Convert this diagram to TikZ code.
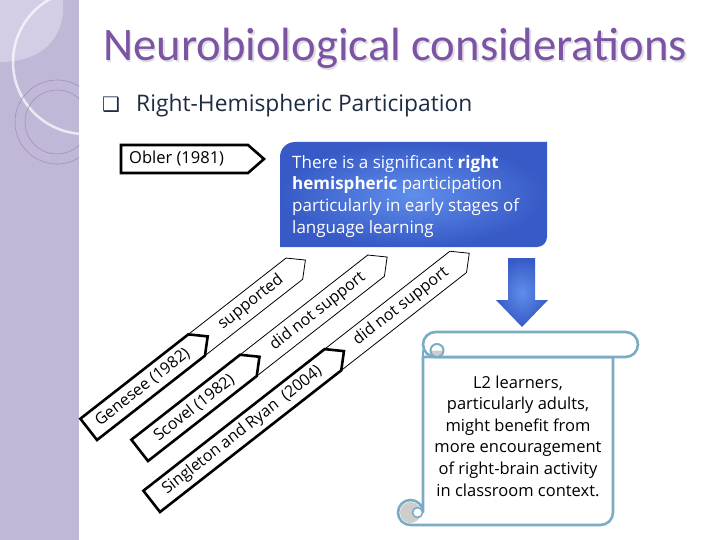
\documentclass[tikz,border=0pt]{standalone}
\usepackage{fontspec}
\setmainfont{Open Sans}
\newfontfamily\titlefont{Carlito}
\newfontfamily\dingfont{DejaVu Sans}
\usetikzlibrary{calc}
\definecolor{sidebar}{RGB}{193,183,215}
\definecolor{sidelight}{RGB}{212,205,229}
\definecolor{ringcol}{RGB}{158,146,190}
\definecolor{titlecol}{RGB}{125,84,164}
\definecolor{titleshadow}{RGB}{222,222,228}
\definecolor{subcol}{RGB}{30,44,66}
\definecolor{bluein}{RGB}{95,142,236}
\definecolor{blueout}{RGB}{55,90,198}
\definecolor{scrollcol}{RGB}{122,172,196}
\definecolor{curlcol}{RGB}{205,205,205}
\tikzset{
  thickband/.style={draw=black, fill=white, line width=2.6pt, line join=miter},
  thinband/.style={draw=black, fill=white, line width=0.8pt},
  bandtext/.style={font=\fontsize{16}{16}\selectfont, inner sep=0pt, transform shape},
  scrollline/.style={draw=scrollcol, line width=2.6pt, fill=white},
  bodytext/.style={font=\fontsize{16.5}{21.6}\selectfont, inner sep=0pt},
}
% #1,#2 origin; #3 thick end; #4 thin end; #5 name; #6 author; #7 result
\newcommand{\bandrow}[7]{%
  \begin{scope}[shift={(#1,#2)}, rotate=38, y=1pt]
    \draw[thinband] (#3-12,0) -- (#4,0) -- (#4+14,13.5) coordinate (#5-tip) -- (#4,27) -- (#3-12,27) -- cycle;
    \draw[thickband] (0,0) -- (#3,0) -- (#3+14,13.5) coordinate (#5-mid) -- (#3,27) -- (0,27) -- cycle;
    \node[bandtext] (#5-author) at ({#3/2},13.5) {#6};
    \node[bandtext] (#5-result) at ({(#3+#4)/2+7},13.5) {#7};
  \end{scope}}

\begin{document}
\begin{tikzpicture}[x=1pt,y=-1pt]
\useasboundingbox (0,0) rectangle (720,540);
\fill[white] (0,0) rectangle (720,540);

% sidebar
\begin{scope}
  \clip (0,0) rectangle (79,540);
  \fill[sidebar] (0,0) rectangle (79,540);
  \fill[sidelight] (0,0) -- (63,0) .. controls (66,40) and (40,62) .. (0,62) -- cycle;
  \draw[white, opacity=0.7, line width=2.5pt] (85,62) circle[radius=72pt];
  \draw[ringcol, line width=0.6pt] (57,122) circle[radius=42pt];
  \draw[ringcol, line width=0.6pt] (57,122) circle[radius=32pt];
\end{scope}

% title
\node[anchor=base west, inner sep=0pt, text=titleshadow] at (104.5,62.5)
  {\resizebox{584pt}{!}{\fontsize{40}{40}\selectfont\titlefont Neurobiological considerations}};
\node[anchor=base west, inner sep=0pt, text=titlecol] (title) at (103,61)
  {\resizebox{584pt}{!}{\fontsize{40}{40}\selectfont\titlefont Neurobiological considerations}};

% subtitle
\node[anchor=base west, inner sep=0pt, text=subcol] (bullet) at (102,112)
  {\fontsize{20}{20}\selectfont\dingfont ❑};
\node[anchor=base west, inner sep=0pt, text=subcol] (subtitle) at (136,112)
  {\fontsize{22.8}{22.8}\selectfont Right-Hemispheric Participation};

% Obler box
\draw[thickband] (121,145) -- (248,145) -- (264,159) coordinate (obler-tip) -- (248,173) -- (121,173) -- cycle;
\node[bodytext, anchor=west] (obler) at (129,159) {Obler (1981)};

% blue box
\shade[inner color=bluein, outer color=blueout]
  (280,247) -- (280,157) .. controls (280,148.7) and (286.7,142) .. (295,142)
  -- (547,142) -- (547,237) .. controls (547,242.5) and (542.5,247) .. (537,247) -- cycle;
\node[bodytext, font=\fontsize{17}{21.6}\selectfont, anchor=north west, align=left, text=white] (insight) at (292,155)
  {There is a significant \textbf{right}\\
   \textbf{hemispheric} participation\\
   particularly in early stages of\\
   language learning};

% down arrow
\shade[inner color=bluein, outer color=blueout]
  (508,258) -- (535,258) -- (535,300) -- (548,300) -- (522,327) coordinate (arrowtip)
  -- (496,300) -- (508,300) -- cycle;

% study bands
\bandrow{97}{440}{137}{261}{gen}{Genesee (1982)}{supported}
\bandrow{148}{461}{138}{300}{sco}{Scovel (1982)}{did not support}
\bandrow{160}{512}{230}{389}{sin}{Singleton and Ryan\ \ (2004)}{did not support}

% scroll
\path[scrollline] (613,357) -- (613,512.5) .. controls (613,519.4) and (607.4,525) .. (600.5,525)
  -- (410.5,525) .. controls (403.6,525) and (398,519.4) .. (398,512.5)
  .. controls (398,505.6) and (403.6,500) .. (410.5,500)
  .. controls (417.4,500) and (423,505.6) .. (423,512.5)
  -- (423,357) -- cycle;
\fill[curlcol] (410.5,512.5) circle[radius=10.5pt];
\filldraw[fill=white, draw=scrollcol, line width=1.6pt] (417.5,512.5) circle[radius=5pt];
\draw[scrollcol, line width=2.6pt] (423,512.5) -- (423,350);
\path[scrollline] (435.5,332) -- (625.5,332) .. controls (632.4,332) and (638,337.6) .. (638,344.5)
  .. controls (638,351.4) and (632.4,357) .. (625.5,357) -- (435.5,357)
  .. controls (428.6,357) and (423,351.4) .. (423,344.5)
  .. controls (423,337.6) and (428.6,332) .. (435.5,332) -- cycle;
\fill[curlcol] (430.5,350.5) .. controls (430.5,354.1) and (433.4,357) .. (437,357)
  .. controls (440.6,357) and (443.5,354.1) .. (443.5,350.5) -- cycle;
\draw[scrollcol, line width=2pt] (437,350.5) circle[radius=6.5pt];
\node[bodytext, align=center, text=black] (advice) at (518,436)
  {L2 learners,\\ particularly adults,\\ might benefit from\\ more encouragement\\ of right-brain activity\\ in classroom context.};
\end{tikzpicture}
\end{document}
